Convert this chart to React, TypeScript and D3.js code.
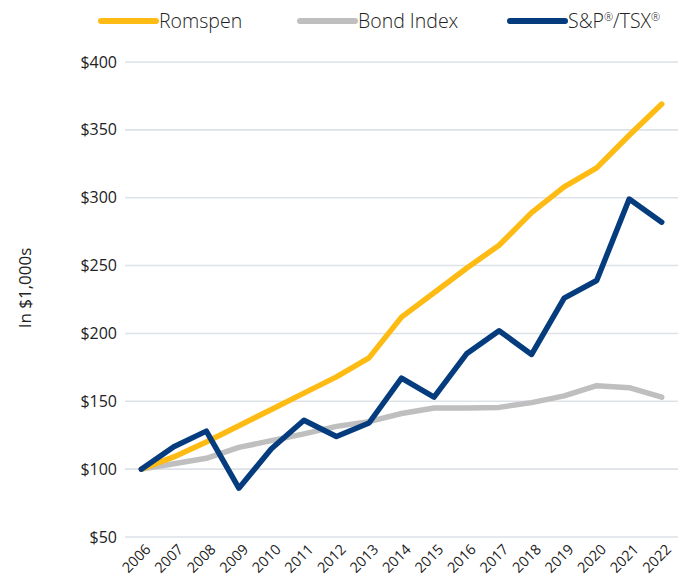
import React from "react";
import * as d3 from "d3";

const years = ["2006","2007","2008","2009","2010","2011","2012","2013","2014","2015","2016","2017","2018","2019","2020","2021","2022"];
const romspen = [100,109,120,132,144,156,168,182,212,230,248,265,289,308,322,346,369];
const bondIndex = [100,104,108,116,121,126,131.5,135,141,145,145,145.5,149,154,161.5,160,153];
const spTsx = [100,116.5,128,86,115,136,124,134,167,153,185,202,184.5,226,239,299,282];
const yTicks = [50,100,150,200,250,300,350,400];

const seriesNames = ["Romspen","Bond Index","S&P®/TSX®"];
const colors = ["#FDBB13","#BFBFBF","#053C7E"];

function LegendLabel({ name }: { name: string }) {
  const parts = name.split("®");
  const out: React.ReactNode[] = [];
  parts.forEach((p, i) => {
    if (p.length > 0) {
      out.push(i > 0 ? <tspan key={"p" + i} dy={7}>{p}</tspan> : <tspan key={"p" + i}>{p}</tspan>);
    }
    if (i < parts.length - 1) {
      out.push(<tspan key={"r" + i} fontSize={11} dy={-7}>®</tspan>);
    }
  });
  return <>{out}</>;
}

export default function App() {
  const W = 686, H = 579;
  const left = 125, right = 678, top = 62, bottom = 537;
  const x = d3.scaleBand<string>().domain(years).range([left, right]);
  const y = d3.scaleLinear().domain([50, 400]).range([bottom, top]);
  const cx = (d: string) => (x(d) as number) + x.bandwidth() / 2;
  const line = d3.line<number>().x((_, i) => cx(years[i])).y((v) => y(v));
  const data = [bondIndex, romspen, spTsx];
  const dataColors = [colors[1], colors[0], colors[2]];
  const legendX = [101, 300, 510];
  return (
    <svg width={W} height={H} style={{ position: "absolute", left: 0, top: 0, background: "#fff" }}>
      {yTicks.map((t) => (
        <g key={t}>
          <line x1={left} x2={right} y1={y(t)} y2={y(t)} stroke="#DDE2E7" strokeWidth={1.6} />
          <text x={117} y={y(t)} dy="0.35em" textAnchor="end" fontFamily="'Open Sans', sans-serif" fontSize={16} fill="#222">
            ${t}
          </text>
        </g>
      ))}
      {years.map((yr) => (
        <text key={yr} transform={`translate(${cx(yr) + 3},${bottom + 6}) rotate(-45)`} textAnchor="end" dy="0.72em"
          fontFamily="'Open Sans', sans-serif" fontSize={14.5} fill="#222">
          {yr}
        </text>
      ))}
      <text transform={`translate(31,${288}) rotate(-90)`} textAnchor="middle" fontFamily="'Open Sans', sans-serif" fontSize={17} fill="#222">
        In $1,000s
      </text>
      {data.map((d, i) => (
        <path key={i} d={line(d) as string} fill="none" stroke={dataColors[i]} strokeWidth={5.5} strokeLinecap="round" strokeLinejoin="round" />
      ))}
      {seriesNames.map((n, i) => (
        <g key={n}>
          <line x1={legendX[i]} x2={legendX[i] + 55} y1={21} y2={21} stroke={colors[i]} strokeWidth={6} strokeLinecap="round" />
          <text x={legendX[i] + 58} y={28} fontFamily="'Open Sans', sans-serif" fontWeight={300} fontSize={19.5} fill="#222">
            <LegendLabel name={n} />
          </text>
        </g>
      ))}
    </svg>
  );
}
